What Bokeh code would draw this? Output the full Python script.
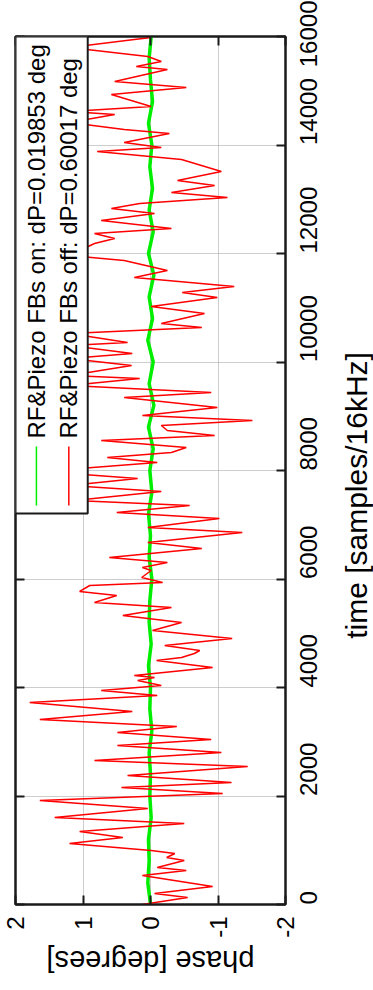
import math
from bokeh.plotting import figure
from bokeh.layouts import row, column
from bokeh.models import Range1d, FixedTicker, LinearAxis, BoxAnnotation, Label, Arrow
from bokeh.core.properties import value
from bokeh.embed import file_html
from bokeh.resources import INLINE

# ---------------- data ----------------
phase_ticks = [2, 1, 0, -1, -2]
phase_tick_labels = {2: "2", 1: "1", 0: "0", -1: "-1", -2: "-2"}
time_ticks = [0, 2000, 4000, 6000, 8000, 10000, 12000, 14000, 16000]

x_title = "phase [degrees]"
y_title = "time [samples/16kHz]"
legend_on = "RF&Piezo FBs on: dP=0.019853 deg"
legend_off = "RF&Piezo FBs off: dP=0.60017 deg"

green_t = [0, 400, 800, 1200, 1600, 2000, 2400, 2800, 3200, 3600, 4000, 4400, 4800, 5200,
           5600, 6000, 6400, 6800, 7200, 7600, 8000, 8400, 8800, 9200, 9600, 10000, 10400,
           10800, 11200, 11600, 12000, 12400, 12800, 13200, 13600, 14000, 14400, 14800,
           15200, 15600, 16000]
green_ph = [0.0, 0.04, 0.02, 0.03, -0.01, 0.01, 0.0, 0.02, -0.02, 0.01, 0.0, 0.03, -0.01, 0.02,
            0.01, -0.02, 0.02, 0.0, 0.03, -0.02, 0.01, -0.04, 0.03, -0.05, 0.02, -0.04, 0.04,
            -0.03, 0.02, -0.05, 0.03, -0.04, 0.02, -0.03, 0.01, -0.02, 0.03, -0.03, 0.0, 0.02,
            -0.01]

red_t = [0, 129, 203, 332, 535, 627, 682, 811, 866, 940, 995, 1124, 1235, 1346, 1493, 1604,
         1770, 1917, 2046, 2157, 2249, 2378, 2544, 2654,
         2802, 2931, 3041, 3170, 3281, 3410, 3558, 3723, 3852, 3945, 4037, 4129, 4184, 4221,
         4369, 4498, 4553, 4627, 4682, 4774, 4903, 5051, 5198, 5327,
         5475, 5567, 5696, 5770, 5880, 5935, 6028, 6157, 6212, 6304, 6396, 6562, 6673, 6857,
         6949, 7115, 7226, 7355, 7447, 7613, 7723, 7852, 7945,
         8037, 8147, 8240, 8332, 8424, 8553, 8645, 8737, 8829, 8922, 9014, 9161, 9346, 9438,
         9567, 9696, 9751, 9935, 10064, 10157, 10304, 10360, 10526, 10636,
         10710, 10894, 11023, 11189, 11281, 11392, 11558, 11687, 11871, 11963, 12184, 12276,
         12369, 12461, 12608, 12737, 12829, 12922, 13032, 13124, 13253, 13345,
         13511, 13732, 13880, 13954, 14046, 14212, 14286, 14415, 14562, 14617, 14710, 14931,
         15060, 15171, 15392, 15447, 15539, 15631, 15797, 15945, 15981]
red_ph = [0.12, -0.55, -0.06, -0.92, 0.12, -0.53, -0.10, -0.50, -0.24, -0.36, -0.01, 1.20,
          0.41, 1.05, -0.50, 1.42, 0.04, 1.64, -1.07, 0.43, -1.20, 0.34, -1.44, 0.83,
          -1.05, 0.49, -0.90, 0.49, -0.39, 1.64, 0.27, 1.79, -0.10, 0.73, -0.16, 0.19, -0.06,
          0.24, -0.92, -0.09, -0.46, -0.65, -0.73, -0.21, -1.21, -0.03, -0.46, 0.41,
          -0.31, 0.83, 0.50, 1.05, 0.90, -0.18, 0.13, -0.01, 0.12, -0.25, 0.61, -0.76, 0.04,
          -1.36, 0.04, -1.02, 0.50, -0.58, 1.13, -0.16, 1.20, 0.19, 1.20,
          1.05, -0.10, 0.64, -0.31, -0.53, 0.73, -0.95, -0.25, -0.16, -1.51, 0.12, -0.99, 0.39,
          -0.90, 1.20, 0.16, 1.20, 0.28, 1.20, 0.27, 1.20, 0.34, 1.20, -0.76,
          -0.16, -0.80, -0.01, -0.99, -0.47, -1.24, 0.24, -0.25, 0.39, 1.20, 0.83, 0.53, 0.83,
          -0.31, 0.73, -0.06, 0.58, 0.16, -1.14, -0.31, -0.95, -0.40,
          -1.05, -0.46, 0.79, -0.16, 0.39, -0.28, 0.39, 1.20, 0.53, 1.20, -0.01, 0.58, -0.53,
          0.53, -0.25, 0.21, -0.16, 0.04, 1.20, 0.24, -0.01]

FONT = "Liberation Sans"
GREEN = "#00ee00"
RED = "#ff0000"
DARK = "#1a1a1a"

# layout geometry (pixels)
FW, FH = 270, 868
BL, BT, BR, BB = 15, 36, 52, 38
W1 = BL + FW + BR
W2 = 373 - W1
H1 = BT + FH + BB
H2 = 990 - H1

p = figure(frame_width=FW, frame_height=FH,
           x_range=Range1d(2, -2), y_range=Range1d(0, 16000),
           y_axis_location="right", output_backend="svg", toolbar_location=None,
           min_border_left=BL, min_border_top=BT, min_border_right=BR, min_border_bottom=BB)
p.background_fill_color = "white"
p.border_fill_color = "white"
p.outline_line_color = DARK
p.outline_line_width = 2

# grid
p.xgrid.ticker = FixedTicker(ticks=phase_ticks)
p.ygrid.ticker = FixedTicker(ticks=time_ticks)
for g in (p.xgrid, p.ygrid):
    g.grid_line_color = "#9a9a9a"
    g.grid_line_dash = "1 1"
    g.grid_line_width = 1

def style_axis(ax, ticks):
    ax.ticker = FixedTicker(ticks=ticks)
    ax.major_tick_in = 9
    ax.major_tick_out = 0
    ax.minor_tick_line_color = None
    ax.major_tick_line_color = DARK
    ax.major_tick_line_width = 2
    ax.axis_line_color = DARK
    ax.axis_line_width = 2
    ax.major_label_text_font = FONT
    ax.major_label_text_font_size = "24px"
    ax.major_label_text_color = "black"

# bottom: phase axis
xa = p.xaxis[0]
style_axis(xa, phase_ticks)
xa.major_label_overrides = phase_tick_labels
xa.major_label_orientation = math.pi / 2
xa.major_label_standoff = 12

# right: time axis
ya = p.yaxis[0]
style_axis(ya, time_ticks)
ya.major_label_orientation = math.pi / 2
ya.major_label_standoff = 23

# mirror ticks (top / left)
for loc, ticks in (("above", phase_ticks), ("left", time_ticks)):
    ax = LinearAxis()
    style_axis(ax, ticks)
    ax.major_label_text_font_size = "0px"
    ax.major_label_text_color = None
    ax.major_label_standoff = 0
    ax.axis_label_standoff = 0
    p.add_layout(ax, loc)

# data
p.line(green_ph, green_t, line_color=GREEN, line_width=3.5)
p.line(red_ph, red_t, line_color=RED, line_width=1.5)

# legend (drawn manually, rotated)
p.add_layout(BoxAnnotation(left=2.0, right=0.93, bottom=7207, top=16000,
                           fill_color="white", fill_alpha=1.0,
                           line_color=DARK, line_alpha=1.0, line_width=2, level="overlay"))
for xpos, col, txt in ((1.69, GREEN, legend_on), (1.21, RED, legend_off)):
    p.add_layout(Arrow(x_start=xpos, y_start=7355, x_end=xpos, y_end=8443, end=None,
                       line_color=col, line_width=1.5, level="overlay"))
    p.add_layout(Label(x=xpos, y=8590, text=txt, angle=math.pi / 2,
                       text_align="left", text_baseline="middle",
                       text_font=FONT, text_font_size="24px", text_color="black",
                       level="overlay"))

def blank_fig(**kw):
    f = figure(output_backend="svg", toolbar_location=None,
               x_axis_location=None, y_axis_location=None, **kw)
    f.grid.visible = False
    f.outline_line_color = None
    f.background_fill_color = "white"
    f.border_fill_color = "white"
    return f

# right title strip (shares the time range)
ft = blank_fig(frame_width=W2, frame_height=FH, x_range=Range1d(0, 1), y_range=p.y_range,
               min_border_left=0, min_border_right=0, min_border_top=BT, min_border_bottom=BB)
ft.text(x=[0.53], y=[7540], text=[y_title], angle=math.pi / 2,
        text_align="center", text_baseline="middle",
        text_font=value(FONT), text_font_size=value("30px"), text_color="black")

# bottom title strip (shares the phase range)
fb = blank_fig(frame_width=FW, frame_height=H2, x_range=p.x_range, y_range=Range1d(0, 1),
               min_border_left=BL, min_border_right=373 - BL - FW, min_border_top=0,
               min_border_bottom=0)
fb.text(x=[0.0], y=[0.62], text=[x_title], angle=math.pi,
        text_align="center", text_baseline="middle",
        text_font=value(FONT), text_font_size=value("29px"), text_color="black")

layout = column(row(p, ft, spacing=0), fb, spacing=0)
open("out.html", "w").write(file_html(layout, INLINE))
